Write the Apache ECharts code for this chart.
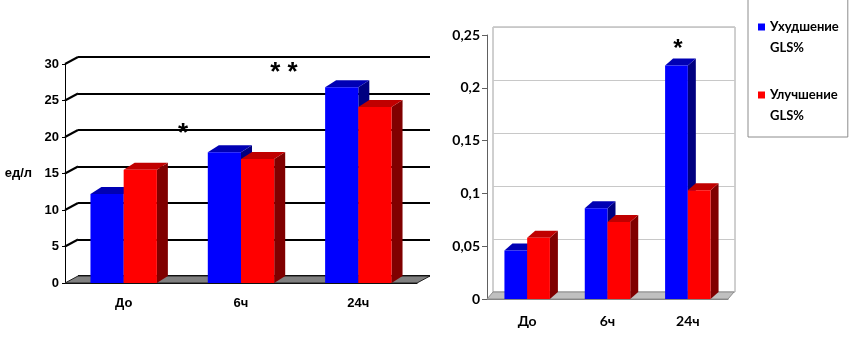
<!DOCTYPE html>
<html>
<head>
<meta charset="utf-8">
<script src="https://cdn.jsdelivr.net/npm/echarts@6/dist/echarts.min.js"></script>
<style>
html, body { margin: 0; padding: 0; background: #fff; }
#chart { width: 857px; height: 351px; }
</style>
</head>
<body>
<div id="chart"></div>
<script>
// данные
const categories = ['До', '6ч', '24ч']
const seriesNames = ['Ухудшение GLS%', 'Улучшение GLS%']
const leftWorse = [12.2, 17.9, 26.8]
const leftBetter = [15.5, 17.0, 24.1]
const rightWorse = [0.046, 0.086, 0.221]
const rightBetter = [0.058, 0.073, 0.103]
const leftTicks = [0, 5, 10, 15, 20, 25, 30]
const rightTicks = [0, 0.05, 0.1, 0.15, 0.2, 0.25]

const BLUE = ['#0000ff', '#0000b4', '#000080']
const RED = ['#ff0000', '#c00000', '#800000']

const chart = echarts.init(document.getElementById('chart'))

// объемный столбик: передняя грань, верх и боковина
function bar3d(side, dx, dy, colors) {
  return function (params, api) {
    const cat = api.value(0)
    const top = api.coord([cat, api.value(1)])
    const base = api.coord([cat, 0])
    const bw = api.size([1, 0])[0] * 0.283
    const x0 = side < 0 ? top[0] - bw : top[0]
    const x1 = x0 + bw
    const y0 = top[1]
    const y1 = base[1]
    return {
      type: 'group',
      children: [
        { type: 'polygon', shape: { points: [[x1, y0], [x1 + dx, y0 - dy], [x1 + dx, y1 - dy], [x1, y1]] }, style: { fill: colors[2] } },
        { type: 'polygon', shape: { points: [[x0, y0], [x0 + dx, y0 - dy], [x1 + dx, y0 - dy], [x1, y0]] }, style: { fill: colors[1] } },
        { type: 'rect', shape: { x: x0, y: y0, width: bw, height: y1 - y0 }, style: { fill: colors[0] } }
      ]
    }
  }
}

// пол
function floor(dx, dy, fill, stroke) {
  return function (params, api) {
    const cs = params.coordSys
    const y = api.coord([0, 0])[1]
    const xl = cs.x
    const xr = cs.x + cs.width
    return {
      type: 'polygon',
      shape: { points: [[xl, y], [xl + dx, y - dy], [xr + dx, y - dy], [xr, y]] },
      style: { fill: fill, stroke: stroke, lineWidth: 1 }
    }
  }
}

// наклонные отрезки от оси к задней стенке
function connector(dx, dy) {
  return function (params, api) {
    const cs = params.coordSys
    const y = api.coord([0, api.value(1)])[1]
    return {
      type: 'line',
      shape: { x1: cs.x, y1: y, x2: cs.x + dx, y2: y - dy },
      style: { stroke: '#000', lineWidth: 2 }
    }
  }
}

const toPairs = arr => arr.map((v, i) => [i, v])
const leftFont = { fontFamily: 'Liberation Sans', fontWeight: 'bold', fontSize: 13, color: '#000' }
const rightFont = { fontFamily: 'Lato', fontWeight: 'bold', fontSize: 14, color: '#000' }

const option = {
  animation: false,
  grid: [
    { left: 65, top: 64, width: 352, height: 219 },
    { left: 78, top: 57, width: 352, height: 219 },
    { left: 487, top: 35, width: 241, height: 264 },
    { left: 493, top: 27, width: 242, height: 265, show: true, borderColor: '#a0a0a0', borderWidth: 1 }
  ],
  xAxis: [
    {
      gridIndex: 0, type: 'category', data: categories,
      axisLine: { lineStyle: { color: '#000' } },
      axisTick: { length: 4, lineStyle: { color: '#000' } },
      axisLabel: Object.assign({ margin: 14 }, leftFont)
    },
    { gridIndex: 1, type: 'category', data: categories, show: false },
    {
      gridIndex: 2, type: 'category', data: categories,
      axisLine: { lineStyle: { color: '#808080' } },
      axisTick: { length: 5, lineStyle: { color: '#808080' } },
      axisLabel: Object.assign({ margin: 15 }, rightFont)
    },
    { gridIndex: 3, type: 'category', data: categories, show: false }
  ],
  yAxis: [
    {
      gridIndex: 0, type: 'value', min: 0, max: 30, interval: 5,
      axisLine: { show: true, lineStyle: { color: '#000' } },
      axisTick: { show: true, length: 3, lineStyle: { color: '#000' } },
      axisLabel: Object.assign({ margin: 6 }, leftFont),
      splitLine: { show: false },
      name: 'ед/л', nameLocation: 'middle', nameRotate: 0, nameGap: 33,
      nameTextStyle: leftFont
    },
    {
      gridIndex: 1, type: 'value', min: 0, max: 30, interval: 5,
      axisLine: { show: false }, axisTick: { show: false }, axisLabel: { show: false },
      splitLine: { lineStyle: { color: '#000', width: 2 } }
    },
    {
      gridIndex: 2, type: 'value', min: 0, max: 0.25, interval: 0.05,
      axisLine: { show: true, lineStyle: { color: '#606060' } },
      axisTick: { show: true, length: 5, lineStyle: { color: '#606060' } },
      axisLabel: Object.assign({
        margin: 7,
        formatter: v => String(+v.toFixed(2)).replace('.', ',')
      }, rightFont),
      splitLine: { show: false }
    },
    {
      gridIndex: 3, type: 'value', min: 0, max: 0.25, interval: 0.05,
      axisLine: { show: false }, axisTick: { show: false }, axisLabel: { show: false },
      splitLine: { lineStyle: { color: '#c8c8c8', width: 1 } }
    }
  ],
  legend: {
    orient: 'vertical',
    left: 748, top: -10,
    padding: [5.5, 9, 10.5, 10],
    itemGap: 5,
    itemWidth: 7, itemHeight: 7,
    icon: 'rect',
    borderColor: '#8c8c8c', borderWidth: 1,
    data: seriesNames,
    formatter: name => '\n' + name.replace(' ', '\n'),
    textStyle: { fontFamily: 'Lato', fontWeight: 'bold', fontSize: 13, lineHeight: 21, color: '#000' }
  },
  graphic: [
    { type: 'text', x: 183, y: 121, style: { text: '*', font: 'bold 26px Liberation Sans', fill: '#000', align: 'center' } },
    { type: 'text', x: 284, y: 60, style: { text: '* *', font: 'bold 26px Liberation Sans', fill: '#000', align: 'center' } },
    { type: 'text', x: 678, y: 37, style: { text: '*', font: 'bold 24px Liberation Sans', fill: '#000', align: 'center' } }
  ],
  series: [
    { type: 'custom', xAxisIndex: 0, yAxisIndex: 0, z: 1, silent: true, data: [[0, 0]], renderItem: floor(13, 7, '#808080', '#202020') },
    { type: 'custom', xAxisIndex: 0, yAxisIndex: 0, z: 1, silent: true, data: toPairs(leftTicks.slice(1)), renderItem: connector(13, 7) },
    { type: 'custom', name: seriesNames[0], xAxisIndex: 0, yAxisIndex: 0, z: 2, itemStyle: { color: BLUE[0] }, data: toPairs(leftWorse), renderItem: bar3d(-1, 11, 7, BLUE) },
    { type: 'custom', name: seriesNames[1], xAxisIndex: 0, yAxisIndex: 0, z: 3, itemStyle: { color: RED[0] }, data: toPairs(leftBetter), renderItem: bar3d(1, 11, 7, RED) },
    { type: 'custom', xAxisIndex: 2, yAxisIndex: 2, z: 1, silent: true, data: [[0, 0]], renderItem: floor(6, 7, '#c0c0c0', '#8c8c8c') },
    { type: 'custom', name: seriesNames[0], xAxisIndex: 2, yAxisIndex: 2, z: 2, itemStyle: { color: BLUE[0] }, data: toPairs(rightWorse), renderItem: bar3d(-1, 8, 7, BLUE) },
    { type: 'custom', name: seriesNames[1], xAxisIndex: 2, yAxisIndex: 2, z: 3, itemStyle: { color: RED[0] }, data: toPairs(rightBetter), renderItem: bar3d(1, 8, 7, RED) }
  ]
}

chart.setOption(option)
window.addEventListener('resize', () => chart.resize())
</script>
</body>
</html>
